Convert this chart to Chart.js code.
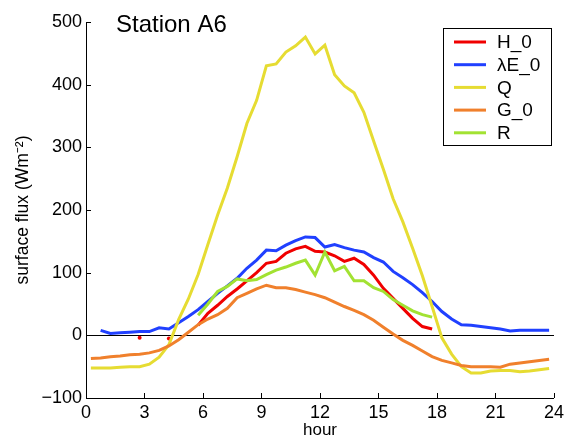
<!DOCTYPE html>
<html>
<head>
<meta charset="utf-8">
<script src="https://cdn.jsdelivr.net/npm/chart.js@4"></script>
<style>
  body { margin: 0; background: #fff; }
  canvas { display: block; }
</style>
</head>
<body>
<canvas id="flux" width="568" height="441"></canvas>
<script>
// half-hourly mean values, Station A6
const hours = [0.25, 0.75, 1.25, 1.75, 2.25, 2.75, 3.25, 3.75, 4.25, 4.75, 5.25, 5.75,
    6.25, 6.75, 7.25, 7.75, 8.25, 8.75, 9.25, 9.75, 10.25, 10.75, 11.25, 11.75,
    12.25, 12.75, 13.25, 13.75, 14.25, 14.75, 15.25, 15.75, 16.25, 16.75, 17.25, 17.75,
    18.25, 18.75, 19.25, 19.75, 20.25, 20.75, 21.25, 21.75, 22.25, 22.75, 23.25, 23.75];

const H0 = [null, null, null, null, null, -4, null, null, -5, null, null, 16,
    35, 48, 62, 74, 87, 100, 115, 118, 131, 138, 142, 134,
    133, 127, 118, 123, 113, 96, 75, 59, 43, 27, 14, 10,
    null, null, null, null, null, null, null, null, null, null, null, null];
const LE0 = [null, 8, 3, 4, 5, 6, 6, 12, 10, 20, 30, 41,
    54, 67, 79, 91, 107, 120, 136, 135, 144, 151, 157, 156,
    141, 145, 140, 136, 133, 124, 117, 102, 92, 81, 68, 54,
    38, 26, 17, 16, 14, 12, 10, 7, 8, 8, 8, 8];
const Q = [-52, -52, -52, -51, -50, -50, -46, -35, -15, 25, 58, 97,
    145, 192, 235, 285, 338, 375, 430, 433, 452, 462, 476, 449,
    463, 416, 398, 387, 356, 310, 265, 218, 181, 139, 95, 46,
    -4, -30, -50, -60, -60, -57, -56, -56, -58, -57, -55, -53];
const G0 = [-37, -36, -34, -33, -31, -30, -28, -24, -17, -7, 5, 17,
    26, 33, 43, 60, 67, 74, 80, 76, 76, 73, 69, 65,
    60, 53, 46, 40, 33, 24, 13, 2, -8, -16, -25, -34,
    -40, -44, -48, -50, -50, -50, -51, -46, -44, -42, -40, -38];
const R = [null, null, null, null, null, null, null, null, null, null, null, 32,
    50, 70, 78, 90, 87, 89, 97, 104, 109, 115, 120, 96,
    133, 103, 110, 87, 87, 76, 70, 57, 48, 39, 33, 29,
    null, null, null, null, null, null, null, null, null, null, null, null];

const seriesNames = ['H_0', 'λE_0', 'Q', 'G_0', 'R'];
const seriesColors = ['#f00000', '#2040ff', '#e6dc32', '#f0802c', '#a2e232'];
const xTicks = [0, 3, 6, 9, 12, 15, 18, 21, 24];
const yTicks = [-100, 0, 100, 200, 300, 400, 500];

const FONT = "'Liberation Sans', Arial, Helvetica, sans-serif";

function pts(vals) {
    return hours.map((h, i) => ({ x: h, y: vals[i] }));
}

// points with no neighbours get a dot, like matlab shows them
function lonelyRadius(ctx) {
    const d = ctx.dataset.data;
    const i = ctx.dataIndex;
    if (d[i].y === null) return 0;
    const prev = i > 0 ? d[i - 1].y : null;
    const next = i < d.length - 1 ? d[i + 1].y : null;
    return (prev === null && next === null) ? 2 : 0;
}

const allSeries = [H0, LE0, Q, G0, R];
const datasets = allSeries.map((vals, k) => ({
    label: seriesNames[k],
    data: pts(vals),
    borderColor: seriesColors[k],
    backgroundColor: seriesColors[k],
    borderWidth: 3,
    pointRadius: lonelyRadius,
    pointBorderWidth: 0,
    pointHoverRadius: 0,
    spanGaps: false,
    tension: 0,
    order: allSeries.length - k
}));

// title inside the axes + boxed legend + inward tick marks
const decorations = {
    id: 'decorations',
    afterDraw(chart) {
        const c = chart.ctx;
        const x = chart.scales.x, y = chart.scales.y;
        const a = chart.chartArea;
        c.save();

        c.strokeStyle = '#000';
        c.lineWidth = 1;
        xTicks.forEach(t => {
            const px = Math.round(x.getPixelForValue(t)) + 0.5;
            c.beginPath(); c.moveTo(px, a.bottom); c.lineTo(px, a.bottom - 5); c.stroke();
        });
        yTicks.forEach(t => {
            const py = Math.round(y.getPixelForValue(t)) + 0.5;
            c.beginPath(); c.moveTo(a.left, py); c.lineTo(a.left + 5, py); c.stroke();
        });

        c.fillStyle = '#000';
        c.font = '24px ' + FONT;
        c.textBaseline = 'alphabetic';
        c.textAlign = 'left';
        c.fillText('Station A6', 116, 32);

        // legend box
        const bx = 443.5, by = 28.5, bw = 108, bh = 117;
        c.fillStyle = '#fff';
        c.fillRect(bx, by, bw, bh);
        c.strokeRect(bx, by, bw, bh);
        c.font = '19px ' + FONT;
        c.textBaseline = 'middle';
        seriesNames.forEach((name, k) => {
            const ry = 42 + k * 22.7;
            c.strokeStyle = seriesColors[k];
            c.lineWidth = 3;
            c.beginPath(); c.moveTo(454, ry); c.lineTo(486, ry); c.stroke();
            c.fillStyle = '#000';
            c.fillText(name, 497, ry + 1);
        });
        c.restore();
    }
};

new Chart(document.getElementById('flux'), {
    type: 'line',
    data: { datasets: datasets },
    options: {
        responsive: false,
        animation: false,
        layout: { padding: { top: 22, right: 10, left: 0, bottom: 0 } },
        plugins: {
            legend: { display: false },
            tooltip: { enabled: false }
        },
        scales: {
            x: {
                type: 'linear',
                min: 0,
                max: 24,
                afterFit: s => { s.height = 43; },
                afterBuildTicks: s => { s.ticks = xTicks.map(v => ({ value: v })); },
                ticks: {
                    color: '#000',
                    font: { family: FONT, size: 18 },
                    padding: 4,
                    maxRotation: 0,
                    autoSkip: false
                },
                grid: { display: false, drawTicks: false },
                border: { display: true, color: '#000', width: 1 },
                title: {
                    display: true,
                    text: 'hour',
                    color: '#000',
                    font: { family: FONT, size: 17 },
                    padding: { top: 0, bottom: 0 }
                }
            },
            y: {
                type: 'linear',
                min: -100,
                max: 500,
                afterFit: s => { s.width = 86; },
                afterBuildTicks: s => { s.ticks = yTicks.map(v => ({ value: v })); },
                ticks: {
                    color: '#000',
                    font: { family: FONT, size: 18 },
                    padding: 4,
                    callback: v => String(v).replace('-', '\u2212')
                },
                grid: {
                    drawTicks: false,
                    color: ctx => (ctx.tick && ctx.tick.value === 0) ? '#000' : 'rgba(0,0,0,0)',
                    lineWidth: 1
                },
                border: { display: true, color: '#000', width: 1 },
                title: {
                    display: true,
                    text: 'surface flux (Wm\u207B\u00B2)',
                    color: '#000',
                    font: { family: FONT, size: 17.5 },
                    padding: { top: 13, bottom: 0 }
                }
            }
        }
    },
    plugins: [decorations]
});
</script>
</body>
</html>
